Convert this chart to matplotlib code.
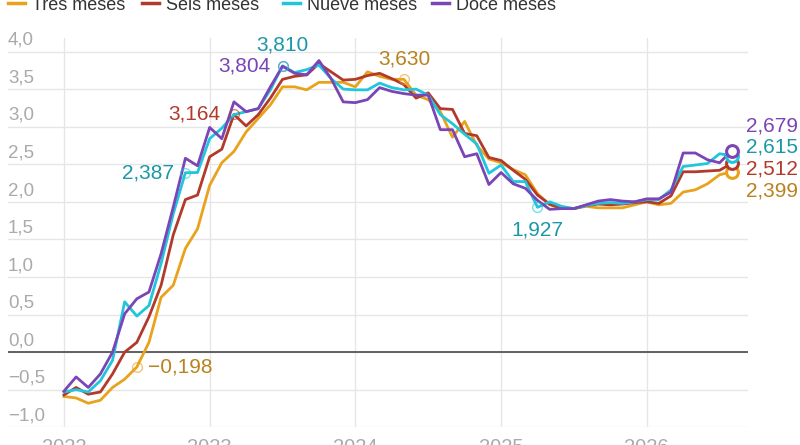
import matplotlib
matplotlib.use("Agg")
import matplotlib.pyplot as plt
from matplotlib.lines import Line2D
import matplotlib.transforms as mtransforms

plt.rcParams['font.family'] = ['Liberation Sans', 'DejaVu Sans']

# monthly, Jan 2022 .. Aug 2026
tres = [-0.59, -0.61, -0.68, -0.64, -0.47, -0.36, -0.198, 0.13, 0.73, 0.89, 1.38, 1.64,
        2.22, 2.52, 2.67, 2.93, 3.11, 3.29, 3.53, 3.53, 3.49, 3.59, 3.59, 3.59,
        3.53, 3.73, 3.67, 3.63, 3.63, 3.42, 3.36, 3.20, 2.86, 3.07, 2.75, 2.57,
        2.52, 2.43, 2.36, 2.11, 1.96, 1.92, 1.91, 1.94, 1.92, 1.92, 1.92, 1.96,
        2.00, 1.96, 1.98, 2.13, 2.16, 2.24, 2.36, 2.399]
seis = [-0.57, -0.47, -0.56, -0.53, -0.29, 0.00, 0.13, 0.47, 0.89, 1.56, 2.03, 2.09,
        2.60, 2.70, 3.164, 3.01, 3.16, 3.38, 3.63, 3.67, 3.69, 3.84, 3.73, 3.62,
        3.63, 3.68, 3.71, 3.64, 3.56, 3.38, 3.45, 3.24, 3.23, 2.91, 2.88, 2.59,
        2.55, 2.42, 2.30, 2.09, 1.97, 1.91, 1.91, 1.95, 1.97, 1.96, 1.97, 1.99,
        2.00, 1.98, 2.08, 2.40, 2.40, 2.41, 2.42, 2.512]
nueve = [-0.53, -0.50, -0.53, -0.38, -0.11, 0.67, 0.48, 0.62, 1.18, 1.84, 2.387, 2.39,
         2.84, 2.98, 3.16, 3.20, 3.24, 3.49, 3.810, 3.72, 3.76, 3.82, 3.64, 3.50,
         3.49, 3.49, 3.58, 3.52, 3.49, 3.50, 3.42, 3.16, 3.04, 2.90, 2.77, 2.38,
         2.49, 2.27, 2.27, 1.927, 2.00, 1.94, 1.91, 1.95, 1.98, 1.99, 1.98, 2.00,
         2.03, 2.03, 2.16, 2.47, 2.49, 2.51, 2.64, 2.615]
doce = [-0.52, -0.33, -0.47, -0.29, 0.00, 0.51, 0.71, 0.80, 1.31, 1.93, 2.58, 2.48,
        2.99, 2.84, 3.33, 3.20, 3.24, 3.53, 3.804, 3.71, 3.69, 3.88, 3.64, 3.33,
        3.32, 3.36, 3.52, 3.47, 3.44, 3.42, 3.42, 2.96, 2.96, 2.60, 2.64, 2.23,
        2.39, 2.24, 2.18, 2.02, 1.90, 1.91, 1.91, 1.96, 2.01, 2.03, 2.01, 2.00,
        2.04, 2.04, 2.13, 2.65, 2.65, 2.56, 2.52, 2.679]

names = ["Tres meses", "Seis meses", "Nueve meses", "Doce meses"]
series = [tres, seis, nueve, doce]
line_colors = ["#e9a21c", "#b23a2b", "#1fc6dc", "#7a45b6"]
text_colors = ["#b8821e", "#b23a2b", "#1a98a8", "#7a45b6"]

years = ["2022", "2023", "2024", "2025", "2026"]
yticks = [-1.0, -0.5, 0.0, 0.5, 1.0, 1.5, 2.0, 2.5, 3.0, 3.5, 4.0]

# highlighted points: (series index, month index, label, ha, dx, dy) in points
notes = [(0, 6, "\u22120,198", "left", 8, 0),
         (2, 10, "2,387", "right", -8, 0),
         (1, 14, "3,164", "right", -10, 0),
         (3, 18, "3,804", "right", -9, 0),
         (2, 18, "3,810", "center", 0, 15),
         (0, 28, "3,630", "center", 0, 15),
         (2, 39, "1,927", "center", 0, -16)]

months = list(range(len(tres)))

fig = plt.figure(figsize=(8, 4.45), dpi=100)
ax = fig.add_axes([0.01, 0.0398, 0.925, 0.8748])
ax.set_xlim(-4.61, 56.34)
ax.set_ylim(-1.0, 4.18)

for s, c in zip(series, line_colors):
    ax.plot(months, s, color=c, lw=2.0, zorder=3)

ax.axhline(0, color="#555555", lw=1.3, zorder=2)

for k, m, lab, ha, dx, dy in notes:
    v = series[k][m]
    ax.plot(m, v, 'o', ms=7, mfc='none', mec=line_colors[k], mew=1.0, alpha=0.6, zorder=4)
    ax.annotate(lab, (m, v), xytext=(dx, dy), textcoords='offset points',
                ha=ha, va='center', color=text_colors[k], fontsize=15, zorder=5)

# end points with stacked labels
last = months[-1]
for k in range(4):
    v = series[k][last]
    ax.plot(last, v, 'o', ms=8.5, mfc='white', mec=line_colors[k], mew=2.2, zorder=6,
            clip_on=False)
for k, dy in zip([3, 2, 1, 0], [18, 2.5, -13, -29]):
    ax.annotate(("%.3f" % series[k][last]).replace(".", ","), (last, doce[last]),
                xytext=(10, dy), textcoords='offset points',
                ha='left', va='center', color=text_colors[k], fontsize=15,
                annotation_clip=False)

# grid
ax.set_xticks([0, 12, 24, 36, 48])
ax.set_xticklabels(years)
ax.set_yticks(yticks)
ax.set_yticklabels([])
ax.grid(True, color="#e6e6e6", lw=1.0, zorder=0)
ax.tick_params(axis='both', length=0)
ax.tick_params(axis='x', pad=8, labelsize=14.5, labelcolor="#aaaaaa")
for sp in ax.spines.values():
    sp.set_visible(False)

trans = mtransforms.blended_transform_factory(ax.transAxes, ax.transData)
for t in yticks:
    ax.annotate(("%.1f" % t).replace(".", ",").replace("-", "\u2212"), (0, t),
                xycoords=trans, xytext=(0, 2), textcoords='offset points',
                ha='left', va='bottom', color="#aaaaaa", fontsize=13.5)

# legend row at the top (partly cut off)
lx = [8, 142, 283, 432]
for x0, name, c in zip(lx, names, line_colors):
    fig.add_artist(Line2D([x0 / 800, (x0 + 17) / 800], [1 - 3 / 445, 1 - 3 / 445],
                          color=c, lw=2.5, transform=fig.transFigure))
    fig.text((x0 + 24) / 800, 1 - 10 / 445, name, ha='left', va='baseline',
             fontsize=13, color="#333333")

fig.savefig("out.png", dpi=100)
